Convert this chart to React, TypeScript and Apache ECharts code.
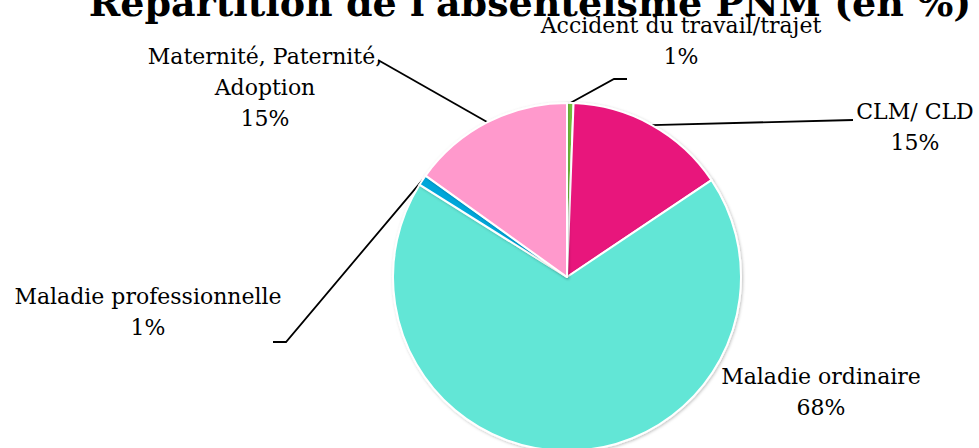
import React, { useEffect, useRef } from "react";
import * as echarts from "echarts";

const TITLE = "Répartition de l'absentéisme PNM (en %)";
const CATEGORIES = [
  "Accident du travail/trajet",
  "CLM/ CLD",
  "Maladie ordinaire",
  "Maladie professionnelle",
  "Maternité, Paternité,\nAdoption",
];
const VALUES = [0.6, 15.0, 68.3, 1.0, 15.1];
const COLORS = ["#78C83C", "#E8177C", "#62E6D6", "#00A6DA", "#FF99CC"];

// label block centres and leader-line bends (page pixels)
const LABEL_LAYOUT = [
  { x: 681, y: 41, bend: [614, 79], end: [627, 79], line: true },
  { x: 915, y: 127, bend: [853, 120], end: [853, 120], line: true },
  { x: 821, y: 392, bend: [0, 0], end: [0, 0], line: false },
  { x: 148, y: 312, bend: [286, 342], end: [273, 342], line: true },
  { x: 265, y: 87, bend: [378, 60], end: [378, 60], line: true },
];

export default function App() {
  const ref = useRef<HTMLDivElement>(null);
  useEffect(() => {
    if (!ref.current) return;
    const chart = echarts.init(ref.current, undefined, { renderer: "svg" });
    const labelFont = "DejaVu Serif";
    chart.setOption({
      animation: false,
      backgroundColor: "#ffffff",
      graphic: [
        {
          type: "text",
          x: 530,
          y: 2,
          style: {
            text: TITLE,
            fill: "#000",
            font: "bold 38px 'DejaVu Serif'",
            align: "center",
            verticalAlign: "middle",
          },
        },
      ],
      series: [
        {
          type: "pie",
          center: [567, 277],
          radius: 174,
          startAngle: 90,
          clockwise: true,
          avoidLabelOverlap: false,
          data: CATEGORIES.map((name, i) => ({
            name,
            value: VALUES[i],
            itemStyle: { color: COLORS[i] },
            labelLine: { show: LABEL_LAYOUT[i].line },
          })),
          itemStyle: {
            borderColor: "#ffffff",
            borderWidth: 2,
            shadowBlur: 3,
            shadowColor: "rgba(0,0,0,0.25)",
            shadowOffsetX: 1,
            shadowOffsetY: 1,
          },
          label: {
            show: true,
            position: "outside",
            color: "#000",
            fontFamily: labelFont,
            fontSize: 22,
            lineHeight: 31,
            align: "center",
            formatter: (p: any) => `${p.name}\n${Math.round(p.percent)}%`,
          },
          labelLine: {
            show: true,
            lineStyle: { color: "#000", width: 1.8 },
          },
          labelLayout: (params: any) => {
            const L = LABEL_LAYOUT[params.dataIndex];
            const pts = params.labelLinePoints;
            const res: any = {
              x: L.x,
              y: L.y,
              align: "center",
              verticalAlign: "middle",
            };
            if (pts && L.line) {
              res.labelLinePoints = [pts[0], L.bend, L.end];
            }
            return res;
          },
          emphasis: { disabled: true },
        },
      ],
    });
    return () => chart.dispose();
  }, []);
  return (
    <div
      ref={ref}
      style={{ position: "fixed", left: 0, top: 0, width: 979, height: 448 }}
    />
  );
}
